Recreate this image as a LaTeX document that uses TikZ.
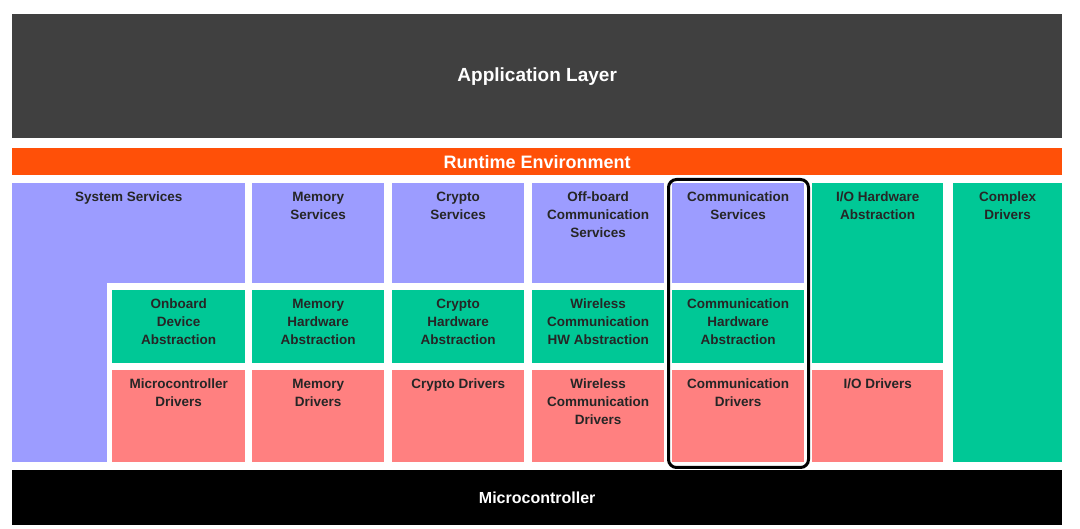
\documentclass[tikz,border=0pt]{standalone}
\usepackage{fontspec}
\setmainfont{Liberation Sans}
\definecolor{appgray}{HTML}{404040}
\definecolor{rteorange}{HTML}{FF5008}
\definecolor{svcblue}{HTML}{9C9CFF}
\definecolor{hwgreen}{HTML}{00C896}
\definecolor{drvred}{HTML}{FF8080}
\begin{document}
\begin{tikzpicture}[x=1pt,y=-1pt,
    blk/.style={rectangle, draw=none, inner sep=0pt, anchor=north west},
    txt/.style={anchor=north, align=center, font=\fontsize{13.5}{18}\selectfont\bfseries, text=black!85, inner sep=0pt, yshift=-9pt},
    bar/.style={font=\bfseries, text=white}
]
\useasboundingbox[fill=white] (0,0) rectangle (1080,529);

% Top and bottom layers
\node[blk, fill=appgray, minimum width=1050pt, minimum height=124pt] (app) at (12,14) {};
\node[bar, font=\fontsize{19}{22}\selectfont\bfseries] (apptxt) at (app.center) {Application Layer};
\node[blk, fill=rteorange, minimum width=1050pt, minimum height=27pt] (rte) at (12,148) {};
\node[bar, font=\fontsize{18}{21}\selectfont\bfseries] (rtetxt) at (rte.center) {Runtime Environment};
\node[blk, fill=black, minimum width=1050pt, minimum height=55pt] (mcu) at (12,470) {};
\node[bar, font=\fontsize{16}{19}\selectfont\bfseries] (mcutxt) at (mcu.center) {Microcontroller};

% Services row
\node[blk, fill=svcblue, minimum width=233pt, minimum height=100pt] (sys) at (12,183) {};
\node[blk, fill=svcblue, minimum width=95pt, minimum height=180pt] (sysleg) at (12,282) {};
\node[txt] (systxt) at (sys.north) {System Services};
\node[blk, fill=svcblue, minimum width=132pt, minimum height=100pt] (memsvc) at (252,183) {};
\node[txt] at (memsvc.north) {Memory\\Services};
\node[blk, fill=svcblue, minimum width=132pt, minimum height=100pt] (crysvc) at (392,183) {};
\node[txt] at (crysvc.north) {Crypto\\Services};
\node[blk, fill=svcblue, minimum width=132pt, minimum height=100pt] (offsvc) at (532,183) {};
\node[txt] at (offsvc.north) {Off-board\\Communication\\Services};
\node[blk, fill=svcblue, minimum width=132pt, minimum height=100pt] (comsvc) at (672,183) {};
\node[txt] at (comsvc.north) {Communication\\Services};
\node[blk, fill=hwgreen, minimum width=131pt, minimum height=180pt] (iohw) at (812,183) {};
\node[txt] at (iohw.north) {I/O Hardware\\Abstraction};
\node[blk, fill=hwgreen, minimum width=109pt, minimum height=279pt] (cdd) at (953,183) {};
\node[txt] at (cdd.north) {Complex\\Drivers};

% Abstraction row
\node[blk, fill=hwgreen, minimum width=133pt, minimum height=73pt] (onbhw) at (112,290) {};
\node[txt] at (onbhw.north) {Onboard\\Device\\Abstraction};
\node[blk, fill=hwgreen, minimum width=132pt, minimum height=73pt] (memhw) at (252,290) {};
\node[txt] at (memhw.north) {Memory\\Hardware\\Abstraction};
\node[blk, fill=hwgreen, minimum width=132pt, minimum height=73pt] (cryhw) at (392,290) {};
\node[txt] at (cryhw.north) {Crypto\\Hardware\\Abstraction};
\node[blk, fill=hwgreen, minimum width=132pt, minimum height=73pt] (wlhw) at (532,290) {};
\node[txt] at (wlhw.north) {Wireless\\Communication\\HW Abstraction};
\node[blk, fill=hwgreen, minimum width=132pt, minimum height=73pt] (comhw) at (672,290) {};
\node[txt] at (comhw.north) {Communication\\Hardware\\Abstraction};

% Driver row
\node[blk, fill=drvred, minimum width=133pt, minimum height=92pt] (mcudrv) at (112,370) {};
\node[txt] at (mcudrv.north) {Microcontroller\\Drivers};
\node[blk, fill=drvred, minimum width=132pt, minimum height=92pt] (memdrv) at (252,370) {};
\node[txt] at (memdrv.north) {Memory\\Drivers};
\node[blk, fill=drvred, minimum width=132pt, minimum height=92pt] (crydrv) at (392,370) {};
\node[txt] at (crydrv.north) {Crypto Drivers};
\node[blk, fill=drvred, minimum width=132pt, minimum height=92pt] (wldrv) at (532,370) {};
\node[txt] at (wldrv.north) {Wireless\\Communication\\Drivers};
\node[blk, fill=drvred, minimum width=132pt, minimum height=92pt] (comdrv) at (672,370) {};
\node[txt] at (comdrv.north) {Communication\\Drivers};
\node[blk, fill=drvred, minimum width=131pt, minimum height=92pt] (iodrv) at (812,370) {};
\node[txt] at (iodrv.north) {I/O Drivers};

% Highlight of the communication stack
\node[blk, draw=black, line width=3pt, rounded corners=8pt, minimum width=140pt, minimum height=288pt] (comstack) at (667,178) {};

\end{tikzpicture}
\end{document}
